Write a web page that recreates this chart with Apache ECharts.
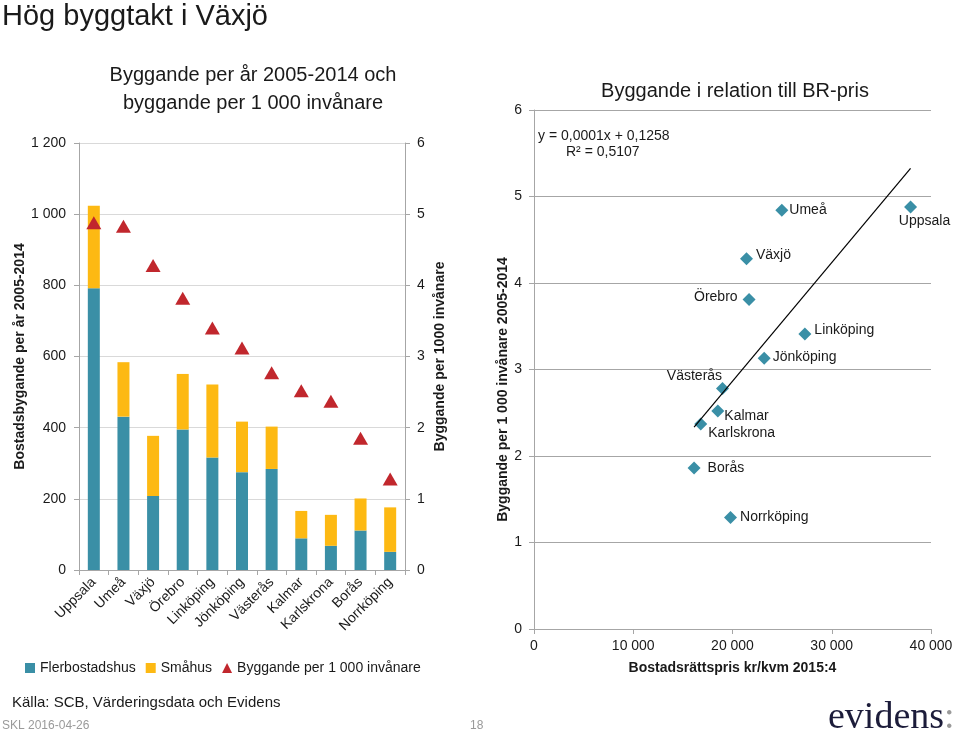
<!DOCTYPE html>
<html>
<head>
<meta charset="utf-8">
<script src="https://cdn.jsdelivr.net/npm/echarts@6/dist/echarts.min.js"></script>
<style>
html,body{margin:0;padding:0;background:#fff;}
#c{width:960px;height:738px;}
</style>
</head>
<body>
<div id="c"></div>
<script>
// ---- Data ----
const cities = ['Uppsala','Umeå','Växjö','Örebro','Linköping','Jönköping','Västerås','Kalmar','Karlskrona','Borås','Norrköping'];
const flerbostadshus = [792, 431, 208, 395, 316, 275, 284, 89, 68, 111, 51];
const smahus = [232, 153, 169, 156, 205, 142, 119, 77, 87, 90, 125];
const perTusen = [4.88, 4.83, 4.28, 3.82, 3.40, 3.12, 2.77, 2.52, 2.37, 1.85, 1.28];

const scatterNames = ['Umeå','Uppsala','Växjö','Örebro','Linköping','Jönköping','Västerås','Kalmar','Karlskrona','Borås','Norrköping'];
const brPris = [24970, 37940, 21410, 21670, 27290, 23190, 18990, 18520, 16800, 16130, 19800];
const byggRate = [4.84, 4.88, 4.28, 3.81, 3.41, 3.13, 2.78, 2.52, 2.37, 1.86, 1.29];

const leftTicks = [0, 200, 400, 600, 800, 1000, 1200];
const rightTicks = [0, 1, 2, 3, 4, 5, 6];
const priceTicks = [0, 10000, 20000, 30000, 40000];

// ---- Styles ----
const TEAL = '#3a8fa6', YELLOW = '#fdb913', RED = '#c1272d', TXT = '#1a1a1a', AX = '#a6a6a6', GRID = '#d9d9d9';
const FONT = '"Liberation Sans", Arial, sans-serif';
const fmt = v => String(v).replace(/\B(?=(\d{3})+(?!\d))/g, ' ');

const labelStyle = {
  'Umeå': {position: 'right', offset: [-4, 0]},
  'Uppsala': {position: 'bottom', offset: [14, -4]},
  'Växjö': {position: 'right', offset: [-2, -4]},
  'Örebro': {position: 'left', offset: [0, -2]},
  'Linköping': {position: 'right', offset: [-2, -4]},
  'Jönköping': {position: 'right', offset: [-3, -1]},
  'Västerås': {position: 'top', offset: [-28, 6]},
  'Kalmar': {position: 'right', offset: [-5, 5]},
  'Karlskrona': {position: 'right', offset: [-4, 9]},
  'Borås': {position: 'right', offset: [2, 0]},
  'Norrköping': {position: 'right', offset: [-2, 0]}
};

// least-squares trend line from the data
const n = brPris.length;
const mx = brPris.reduce((a, b) => a + b, 0) / n;
const my = byggRate.reduce((a, b) => a + b, 0) / n;
let sxy = 0, sxx = 0;
for (let i = 0; i < n; i++) { sxy += (brPris[i] - mx) * (byggRate[i] - my); sxx += (brPris[i] - mx) ** 2; }
const slope = sxy / sxx, intercept = my - slope * mx;
const xMin = Math.min(...brPris), xMax = Math.max(...brPris);
const trend = [[xMin, intercept + slope * xMin], [xMax, intercept + slope * xMax]];

const chart = echarts.init(document.getElementById('c'));
chart.setOption({
  animation: false,
  textStyle: {fontFamily: FONT, color: TXT},
  title: [
    {text: 'Hög byggtakt i Växjö', left: -3, top: -3, textStyle: {fontSize: 29, fontWeight: 'normal', color: TXT, fontFamily: FONT}},
    {text: 'Byggande per år 2005-2014 och\nbyggande per 1 000 invånare', left: 248, top: 56, textAlign: 'center',
     textStyle: {fontSize: 20, fontWeight: 'normal', color: TXT, lineHeight: 28, fontFamily: FONT}},
    {text: 'Byggande i relation till BR-pris', left: 730, top: 76, textAlign: 'center',
     textStyle: {fontSize: 20, fontWeight: 'normal', color: TXT, fontFamily: FONT}}
  ],
  legend: {
    left: 20, top: 656, itemWidth: 10, itemHeight: 10, itemGap: 10,
    textStyle: {fontSize: 14, color: TXT, fontFamily: FONT},
    data: [
      {name: 'Flerbostadshus', icon: 'rect'},
      {name: 'Småhus', icon: 'rect'},
      {name: 'Byggande per 1 000 invånare', icon: 'triangle'}
    ]
  },
  grid: [
    {left: 79, top: 143, width: 326, height: 427},
    {left: 534, top: 110, width: 397, height: 519}
  ],
  xAxis: [
    {type: 'category', gridIndex: 0, data: cities,
     axisLine: {lineStyle: {color: AX}}, axisTick: {show: true, length: 5, lineStyle: {color: AX}},
     axisLabel: {rotate: 45, fontSize: 14, color: TXT, margin: 10, interval: 0}},
    {type: 'value', gridIndex: 1, min: 0, max: 40000, interval: 10000,
     axisLine: {show: true, lineStyle: {color: AX}}, axisTick: {show: true, length: 5, lineStyle: {color: AX}},
     splitLine: {show: false},
     axisLabel: {fontSize: 14, color: TXT, margin: 10, formatter: v => priceTicks.includes(v) ? fmt(v) : ''},
     name: 'Bostadsrättspris kr/kvm 2015:4', nameLocation: 'middle', nameGap: 32,
     nameTextStyle: {fontSize: 14, fontWeight: 'bold', color: TXT}}
  ],
  yAxis: [
    {type: 'value', gridIndex: 0, min: 0, max: 1200, interval: 200,
     axisLine: {show: true, lineStyle: {color: AX}}, axisTick: {show: true, length: 5, lineStyle: {color: AX}},
     splitLine: {lineStyle: {color: GRID}},
     axisLabel: {fontSize: 14, color: TXT, margin: 13, formatter: v => leftTicks.includes(v) ? fmt(v) : ''},
     name: 'Bostadsbygande per år 2005-2014', nameLocation: 'middle', nameGap: 52,
     nameTextStyle: {fontSize: 14, fontWeight: 'bold', color: TXT}},
    {type: 'value', gridIndex: 0, min: 0, max: 6, interval: 1, position: 'right',
     axisLine: {show: true, lineStyle: {color: AX}}, axisTick: {show: true, length: 5, lineStyle: {color: AX}},
     splitLine: {show: false},
     axisLabel: {fontSize: 14, color: TXT, margin: 12, formatter: v => rightTicks.includes(v) ? String(v) : ''},
     name: 'Byggande per 1000 invånare', nameLocation: 'middle', nameGap: 28,
     nameTextStyle: {fontSize: 14, fontWeight: 'bold', color: TXT}},
    {type: 'value', gridIndex: 1, min: 0, max: 6, interval: 1,
     axisLine: {show: true, lineStyle: {color: AX}}, axisTick: {show: true, length: 5, lineStyle: {color: AX}},
     splitLine: {lineStyle: {color: AX}},
     axisLabel: {fontSize: 14, color: TXT, margin: 12},
     name: 'Byggande per 1 000 invånare 2005-2014', nameLocation: 'middle', nameGap: 22,
     nameTextStyle: {fontSize: 14, fontWeight: 'bold', color: TXT, padding: [0, 40, 0, 0]}}
  ],
  series: [
    {name: 'Flerbostadshus', type: 'bar', stack: 'b', xAxisIndex: 0, yAxisIndex: 0, barWidth: 12,
     itemStyle: {color: TEAL}, data: flerbostadshus},
    {name: 'Småhus', type: 'bar', stack: 'b', xAxisIndex: 0, yAxisIndex: 0, barWidth: 12,
     itemStyle: {color: YELLOW}, data: smahus},
    {name: 'Byggande per 1 000 invånare', type: 'scatter', xAxisIndex: 0, yAxisIndex: 1,
     symbol: 'triangle', symbolSize: [15, 13], itemStyle: {color: RED, opacity: 1}, data: perTusen, z: 5},
    {name: 'BR', type: 'scatter', xAxisIndex: 1, yAxisIndex: 2, symbol: 'diamond', symbolSize: 13,
     itemStyle: {color: TEAL, opacity: 1},
     label: {show: true, fontSize: 14, color: TXT, formatter: p => p.data.name},
     data: scatterNames.map((nm, i) => ({name: nm, value: [brPris[i], byggRate[i]], label: labelStyle[nm]}))},
    {name: 'Trend', type: 'line', xAxisIndex: 1, yAxisIndex: 2, showSymbol: false, symbol: 'none',
     lineStyle: {color: '#000', width: 1.2}, data: trend, silent: true}
  ],
  graphic: [
    {type: 'text', left: 538, top: 129, style: {text: 'y = 0,0001x + 0,1258', fill: TXT, font: '14px ' + FONT}},
    {type: 'text', left: 566, top: 145, style: {text: 'R² = 0,5107', fill: TXT, font: '14px ' + FONT}},
    {type: 'text', left: 12, top: 695, style: {text: 'Källa: SCB, Värderingsdata och Evidens', fill: TXT, font: '15px ' + FONT}},
    {type: 'text', left: 2, top: 720, style: {text: 'SKL 2016-04-26', fill: '#9a9a9a', font: '12px ' + FONT}},
    {type: 'text', left: 470, top: 720, style: {text: '18', fill: '#9a9a9a', font: '12px ' + FONT}},
    {type: 'text', left: 828, top: 699, style: {
      text: '{a|evidens}{b|:}',
      rich: {a: {fill: '#1c1c3a', font: '38px "Liberation Serif", "DejaVu Serif", serif'},
             b: {fill: '#9a9a9a', font: '38px "Liberation Serif", "DejaVu Serif", serif'}}}}
  ]
});
</script>
</body>
</html>
